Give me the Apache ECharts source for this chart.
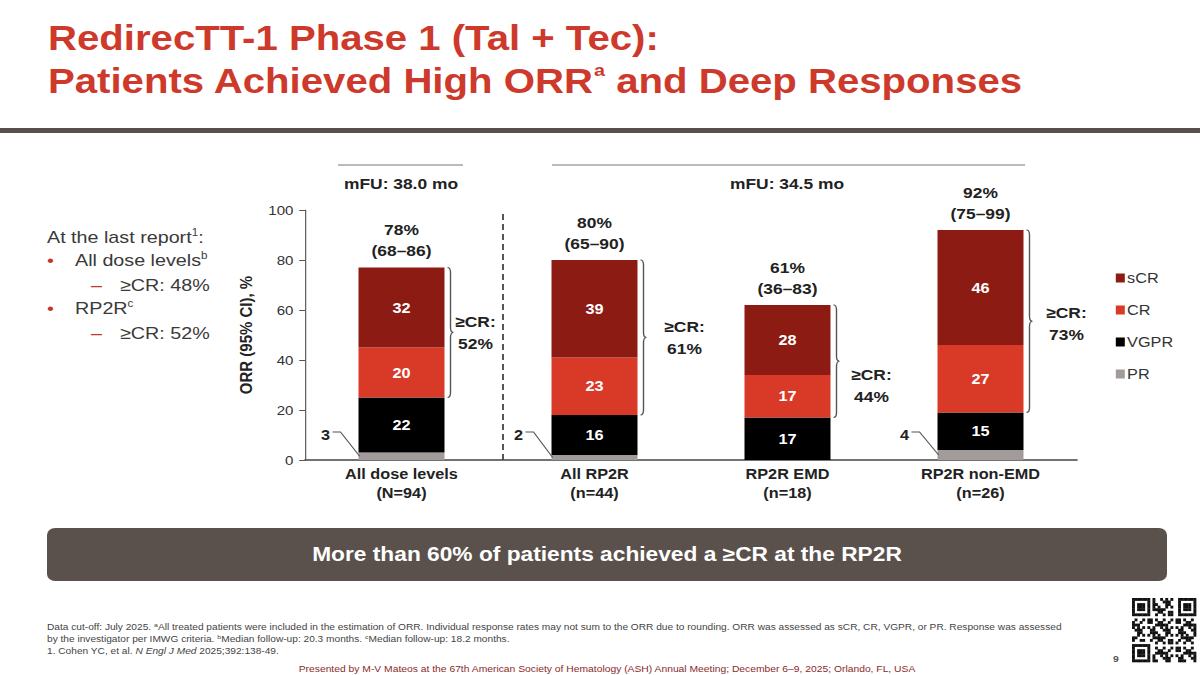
<!DOCTYPE html>
<html>
<head>
<meta charset="utf-8">
<title>RedirecTT-1 Phase 1 ORR</title>
<script src="https://cdn.jsdelivr.net/npm/echarts@6/dist/echarts.min.js"></script>
<style>
  html, body { margin: 0; padding: 0; background: #fff; overflow: hidden; }
  /* the slide is a bit stretched horizontally, so draw narrow and scale */
  #chart { width: 1035px; height: 675px; transform: scaleX(1.16); transform-origin: 0 0; }
</style>
</head>
<body>
<div id="chart"></div>
<script>
// data (% of patients)
const categories = ['All dose levels\n(N=94)', 'All RP2R\n(n=44)', 'RP2R EMD\n(n=18)', 'RP2R non-EMD\n(n=26)']
const prValues = [3, 2, 0, 4]
const vgprValues = [22, 16, 17, 15]
const crValues = [20, 23, 17, 27]
const scrValues = [32, 39, 28, 46]
const orrValues = [78, 80, 61, 92]
const ciLow = [68, 65, 36, 75]
const ciHigh = [86, 90, 83, 99]
const geCrValues = [52, 61, 44, 73]
const legendNames = ['sCR', 'CR', 'VGPR', 'PR']

const SX = 1.16
const X = v => v / SX
const FONT = '"Liberation Sans", Arial, sans-serif'
const RED = '#cd3a2b'
const COLORS = { sCR: '#8c1b13', CR: '#d93a28', VGPR: '#000000', PR: '#a19b99' }
const BAR_W = X(86)
// small nudges for the ≥CR labels (target px)
const crDx = [31, 47, 41, 43]
const crDy = [0, 0, 24, 2]

const totals = categories.map((c, i) => prValues[i] + vgprValues[i] + crValues[i] + scrValues[i])

const chart = echarts.init(document.getElementById('chart'), null, { renderer: 'svg' })

function renderNotes(params, api) {
    const i = api.value(0)
    const top = api.coord([i, totals[i]])
    const base = api.coord([i, 0])
    const crBottom = api.coord([i, prValues[i] + vgprValues[i]])
    const left = top[0] - BAR_W / 2
    const right = top[0] + BAR_W / 2
    const bold = 'bold 15px ' + FONT
    const kids = [
        { type: 'text', style: { text: orrValues[i] + '%', x: top[0], y: top[1] - 38, align: 'center', verticalAlign: 'middle', font: bold, fill: '#222' } },
        { type: 'text', style: { text: '(' + ciLow[i] + '–' + ciHigh[i] + ')', x: top[0], y: top[1] - 17, align: 'center', verticalAlign: 'middle', font: bold, fill: '#222' } }
    ]
    // curly brace over CR + sCR
    const bx = right + X(3), w = X(3), r = 5
    const y1 = top[1], y2 = crBottom[1], ym = (y1 + y2) / 2
    const d = 'M' + bx + ',' + y1 + ' Q' + (bx + w) + ',' + y1 + ' ' + (bx + w) + ',' + (y1 + r) +
        ' L' + (bx + w) + ',' + (ym - r) + ' Q' + (bx + w) + ',' + ym + ' ' + (bx + 2 * w) + ',' + ym +
        ' Q' + (bx + w) + ',' + ym + ' ' + (bx + w) + ',' + (ym + r) +
        ' L' + (bx + w) + ',' + (y2 - r) + ' Q' + (bx + w) + ',' + y2 + ' ' + bx + ',' + y2
    kids.push({ type: 'path', shape: { pathData: d }, style: { stroke: '#555', fill: 'none', lineWidth: 1.2 } })
    kids.push({ type: 'text', style: { text: '≥CR:\n' + geCrValues[i] + '%', x: right + X(crDx[i]), y: ym + crDy[i], align: 'center', verticalAlign: 'middle', font: bold, lineHeight: 22, fill: '#222' } })
    // PR callout
    if (prValues[i] > 0) {
        const prMid = api.coord([i, prValues[i] / 2])[1]
        kids.push({ type: 'polyline', shape: { points: [[left - X(26), base[1] - 28], [left - X(18), base[1] - 28], [left + 1, prMid]] }, style: { stroke: '#555', fill: 'none', lineWidth: 1 } })
        kids.push({ type: 'text', style: { text: String(prValues[i]), x: left - X(33), y: base[1] - 25, align: 'center', verticalAlign: 'middle', font: 'bold 14px ' + FONT, fill: '#222' } })
    }
    return { type: 'group', children: kids }
}

function qrBlocks() {
    const out = []
    const cell = 2.56
    for (let r = 0; r < 25; r++) {
        for (let c = 0; c < 25; c++) {
            const finder = (r < 7 && c < 7) || (r < 7 && c > 17) || (r > 17 && c < 7)
            let on
            if (finder) {
                const rr = r < 7 ? r : r - 18, cc = c < 7 ? c : c - 18
                on = rr === 0 || rr === 6 || cc === 0 || cc === 6 || (rr >= 2 && rr <= 4 && cc >= 2 && cc <= 4)
            } else if ((r === 7 && (c < 8 || c > 16)) || (r === 17 && c < 8) || (c === 7 && (r < 8 || r > 16)) || (c === 17 && r < 8)) {
                on = false
            } else {
                on = ((r * 31 + c * 17 + r * c * 7) % 11) < 5
            }
            if (on) out.push({ type: 'rect', shape: { x: X(1132 + c * cell), y: 598 + r * cell, width: X(cell) + 0.3, height: cell + 0.3 }, style: { fill: '#111' } })
        }
    }
    return out
}

const sup = { n: { font: '17px ' + FONT, fill: '#3a3a3a', lineHeight: 20 }, s: { font: '10px ' + FONT, fill: '#3a3a3a', verticalAlign: 'top', lineHeight: 11 } }
const fnRich = {
    n: { font: '8.75px ' + FONT, fill: '#444', lineHeight: 11 },
    s: { font: '6px ' + FONT, fill: '#444', verticalAlign: 'top', lineHeight: 7 },
    i: { font: 'italic 8.75px ' + FONT, fill: '#444', lineHeight: 11 }
}
function txt(x, y, text, font, fill, align) {
    return { type: 'text', x: X(x), y: y, style: { text: text, font: font, fill: fill, align: align || 'left', verticalAlign: 'middle' } }
}

const graphics = [
    txt(48, 38, 'RedirecTT-1 Phase 1 (Tal + Tec):', 'bold 34.6px ' + FONT, RED),
    { type: 'text', x: X(48), y: 81, style: { text: '{t|Patients Achieved High ORR}{s|a}{t| and Deep Responses}', verticalAlign: 'middle',
        rich: { t: { font: 'bold 34.6px ' + FONT, fill: RED, lineHeight: 40 }, s: { font: 'bold 17px ' + FONT, fill: RED, verticalAlign: 'top', lineHeight: 28 } } } },
    { type: 'rect', shape: { x: 0, y: 128, width: X(1200), height: 5 }, style: { fill: '#57504d' } },

    { type: 'text', x: X(47), y: 237, style: { text: '{n|At the last report}{s|1}{n|:}', verticalAlign: 'middle', rich: sup } },
    txt(47, 260, '•', '17px ' + FONT, '#c0392b'),
    { type: 'text', x: X(75), y: 260, style: { text: '{n|All dose levels}{s|b}', verticalAlign: 'middle', rich: sup } },
    txt(91, 285, '–', '17px ' + FONT, '#c0392b'),
    txt(120, 285, '≥CR: 48%', '17px ' + FONT, '#3a3a3a'),
    txt(47, 308, '•', '17px ' + FONT, '#c0392b'),
    { type: 'text', x: X(75), y: 308, style: { text: '{n|RP2R}{s|c}', verticalAlign: 'middle', rich: sup } },
    txt(91, 333, '–', '17px ' + FONT, '#c0392b'),
    txt(120, 333, '≥CR: 52%', '17px ' + FONT, '#3a3a3a'),

    { type: 'line', shape: { x1: X(338), y1: 165, x2: X(463), y2: 165 }, style: { stroke: '#777', lineWidth: 1.2 } },
    txt(401, 183, 'mFU: 38.0 mo', 'bold 15px ' + FONT, '#222', 'center'),
    { type: 'line', shape: { x1: X(552), y1: 165, x2: X(1025), y2: 165 }, style: { stroke: '#777', lineWidth: 1.2 } },
    txt(787, 183, 'mFU: 34.5 mo', 'bold 15px ' + FONT, '#222', 'center'),
    { type: 'line', shape: { x1: X(503), y1: 214, x2: X(503), y2: 460 }, style: { stroke: '#222', lineWidth: 1.3, lineDash: [6, 4] } },

    { type: 'rect', shape: { x: X(47), y: 528, width: X(1120), height: 53, r: 7 }, style: { fill: '#5a514d' } },
    txt(607, 554, 'More than 60% of patients achieved a ≥CR at the RP2R', 'bold 19.6px ' + FONT, '#fff', 'center'),

    { type: 'text', x: X(47), y: 627, style: { verticalAlign: 'middle', rich: fnRich,
        text: '{n|Data cut-off: July 2025. }{s|a}{n|All treated patients were included in the estimation of ORR. Individual response rates may not sum to the ORR due to rounding. ORR was assessed as sCR, CR, VGPR, or PR. Response was assessed}' } },
    { type: 'text', x: X(47), y: 639, style: { verticalAlign: 'middle', rich: fnRich,
        text: '{n|by the investigator per IMWG criteria. }{s|b}{n|Median follow-up: 20.3 months. }{s|c}{n|Median follow-up: 18.2 months.}' } },
    { type: 'text', x: X(47), y: 651, style: { verticalAlign: 'middle', rich: fnRich,
        text: '{n|1. Cohen YC, et al. }{i|N Engl J Med}{n| 2025;392:138-49.}' } },
    txt(607, 669, 'Presented by M-V Mateos at the 67th American Society of Hematology (ASH) Annual Meeting; December 6–9, 2025; Orlando, FL, USA', '8.9px ' + FONT, '#8b2a2a', 'center'),
    txt(1113, 659, '9', 'bold 9px ' + FONT, '#555')
].concat(qrBlocks())

const segLabel = { show: true, position: 'inside', color: '#fff', fontWeight: 'bold', fontSize: 14, fontFamily: FONT }

chart.setOption({
    animation: false,
    textStyle: { fontFamily: FONT },
    grid: { left: X(305), top: 210, width: X(772), height: 250, containLabel: false },
    legend: {
        data: legendNames, orient: 'vertical', left: X(1110), top: 266, itemGap: 18,
        itemWidth: X(9), itemHeight: 9, icon: 'rect',
        textStyle: { fontSize: 14, color: '#333', padding: [0, 0, 0, -3] }
    },
    xAxis: {
        type: 'category', data: categories,
        axisLine: { lineStyle: { color: '#444', width: 1.5 } },
        axisTick: { show: false },
        axisLabel: { fontSize: 14, fontWeight: 'bold', color: '#222', lineHeight: 19, margin: 4, interval: 0 }
    },
    yAxis: {
        type: 'value', min: 0, max: 100, interval: 20,
        name: 'ORR (95% CI), %', nameLocation: 'middle', nameGap: 44,
        nameTextStyle: { fontSize: 15, fontWeight: 'bold', color: '#222' },
        axisLine: { show: true, lineStyle: { color: '#555' } },
        axisTick: { show: true, length: 5, lineStyle: { color: '#555' } },
        axisLabel: { fontSize: 13, color: '#333', margin: 10 },
        splitLine: { show: false }
    },
    series: [
        { name: 'PR', type: 'bar', stack: 'orr', barWidth: BAR_W, data: prValues, itemStyle: { color: COLORS.PR }, emphasis: { disabled: true } },
        { name: 'VGPR', type: 'bar', stack: 'orr', barWidth: BAR_W, data: vgprValues, itemStyle: { color: COLORS.VGPR }, label: segLabel, emphasis: { disabled: true } },
        { name: 'CR', type: 'bar', stack: 'orr', barWidth: BAR_W, data: crValues, itemStyle: { color: COLORS.CR }, label: segLabel, emphasis: { disabled: true } },
        { name: 'sCR', type: 'bar', stack: 'orr', barWidth: BAR_W, data: scrValues, itemStyle: { color: COLORS.sCR }, label: segLabel, emphasis: { disabled: true } },
        { type: 'custom', data: categories.map((c, i) => [i, totals[i]]), encode: { x: 0, y: 1 }, renderItem: renderNotes, clip: false, z: 10, silent: true }
    ],
    graphic: graphics
})
</script>
</body>
</html>
